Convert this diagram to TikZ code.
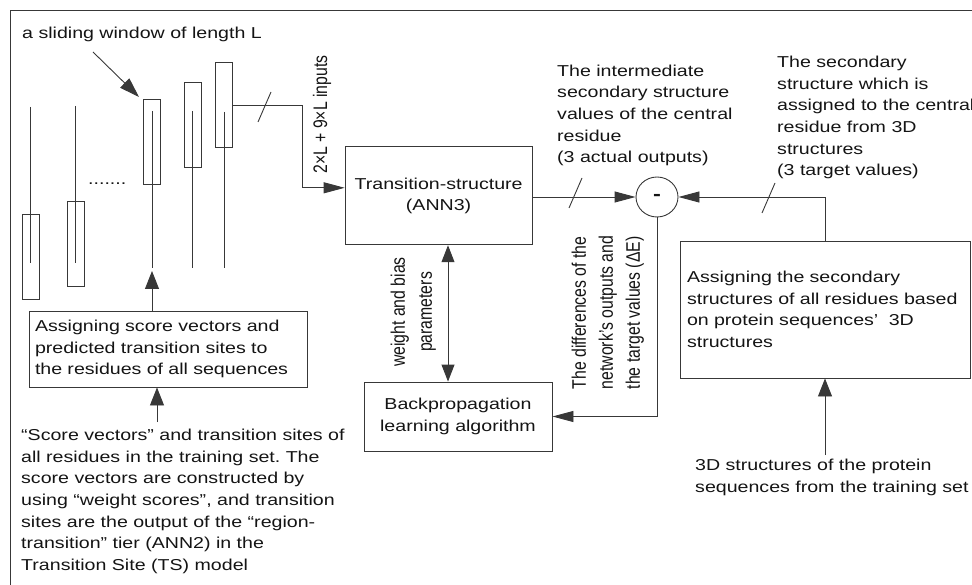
\documentclass[tikz,border=0pt]{standalone}
\usepackage{fontspec}
\usepackage{graphicx}
\setmainfont{Liberation Sans}[FakeStretch=1.24]
\newfontfamily\uprightsans{Liberation Sans}
\usetikzlibrary{arrows.meta,shapes.geometric}
\frenchspacing

\definecolor{ink}{HTML}{141414}
\definecolor{wirecol}{HTML}{383838}

% vertical (rotated) label: widened across the line direction like the body text
\newcommand\vlab[2]{\scalebox{1}[1.24]{\uprightsans\fontsize{15.8}{21.7}\selectfont\begin{tabular}{@{}#1@{}}#2\end{tabular}}}

\begin{document}
\begin{tikzpicture}[x=1pt,y=-1pt,
  every node/.style={inner sep=0pt, text=ink, font=\fontsize{15.8}{21.7}\selectfont},
  wire/.style={draw=wirecol, line width=0.9pt},
  box/.style={draw=wirecol, line width=0.9pt, rectangle},
  win/.style={draw=wirecol, line width=0.9pt, rectangle, minimum width=17pt, minimum height=85pt},
  hto/.style={-{Triangle[length=21pt,width=11pt]}},
  vto/.style={-{Triangle[length=18pt,width=14pt]}},
  slash/.style={wire}
]
\useasboundingbox (0,0) rectangle (972,585);

% outer frame
\draw[wire] (10,585) -- (10,10) -- (972,10);

% residue columns and the sliding windows on them
\node[win] (w1) at (30.5,256.5) {};
\node[win] (w2) at (75.5,243.5) {};
\node[win] (w3) at (152,141.5) {};
\node[win] (w4) at (192.5,124.5) {};
\node[win] (w5) at (224,105) {};
\draw[wire] (30.5,107) -- (30.5,263);
\draw[wire] (75.5,106) -- (75.5,263);
\draw[wire] (152,111) -- (152,268);
\draw[wire] (192.5,111) -- (192.5,268);
\draw[wire] (224,112) -- (224,268);
\node[anchor=base west] (dots) at (88,185) {.......};

% sliding window label
\node[anchor=base west] (swlab) at (22,39) {a sliding window of length L};
\coordinate (swtail) at (93,52);
\coordinate (swtip) at (139,97);
\draw[wire,-{Triangle[length=20pt,width=13pt]}] (swtail) -- (swtip);

% main blocks
\node[box, minimum width=187pt, minimum height=98pt, align=center] (ann3) at (438.6,195.8)
  {Transition-structure\\(ANN3)};
\node[ellipse, draw=wirecol, line width=0.9pt, minimum width=42pt, minimum height=40pt,
  font=\fontsize{19}{21}\selectfont\bfseries] (diff) at (657,197) {-};
\node[box, minimum width=188pt, minimum height=69pt, align=center] (bp) at (458,416.5)
  {Backpropagation\\learning algorithm};
\node[box, text width=276pt, inner xsep=7pt, minimum height=137pt, align=left] (rbox) at (825,309.5)
  {Assigning the secondary\\structures of all residues based\\on protein sequences’\ \ 3D\\structures};
\node[box, text width=266pt, inner xsep=6pt, minimum height=76pt, align=left] (lbox) at (168,349)
  {Assigning score vectors and\\predicted transition sites to\\the residues of all sequences};

% free text
\node[anchor=west, align=left] (outlab) at (557,115.5)
  {The intermediate\\secondary structure\\values of the central\\residue\\(3 actual outputs)};
\node[anchor=west, align=left] (tgtlab) at (777,117.5)
  {The secondary\\structure which is\\assigned to the central\\residue from 3D\\structures\\(3 target values)};
\node[anchor=west, align=left] (srcRlab) at (695,477.5)
  {3D structures of the protein\\sequences from the training set};
\node[anchor=west, align=left] (srcLlab) at (21,501.5)
  {“Score vectors” and transition sites of\\all residues in the training set. The\\score vectors are constructed by\\using “weight scores”, and transition\\sites are the output of the “region-\\transition” tier (ANN2) in the\\Transition Site (TS) model};

% rotated labels
\node[rotate=90] (inlab) at (321.7,114.5) {\vlab{c}{2×L + 9×L inputs}};
\node[rotate=90] (wblab) at (413,312) {\vlab{c}{weight and bias\\parameters}};
\node[rotate=90] (delab) at (607.5,312.5) {\vlab{l}{The differences of the\\network’s outputs and\\the target values (ΔE)}};

% connectors
\coordinate (bend) at (302,105);
\draw[wire,hto] (w5.east) -- (bend) |- ([yshift=8pt]ann3.west);
\coordinate (s1) at (264.5,107);
\draw[slash] (s1) ++(-6.5,15) -- ++(13,-30);

\draw[wire,hto] (ann3.east |- diff) -- (diff.west);
\coordinate (s2) at (575.5,193);
\draw[slash] (s2) ++(-6.5,15) -- ++(13,-30);

\draw[wire,hto] (rbox.north) |- (diff.east);
\coordinate (s3) at (768.5,198);
\draw[slash] (s3) ++(-6.5,15) -- ++(13,-30);

\draw[wire,hto] (diff.south) |- (bp.east);

\coordinate (dbl) at (448,0);
\draw[wire,{Triangle[length=17pt,width=13pt]}-{Triangle[length=17pt,width=13pt]}]
  (ann3.south -| dbl) -- (bp.north -| dbl);

\coordinate (winbase) at (152,271);
\draw[wire,vto] (lbox.north -| winbase) -- (winbase);
\coordinate (srcL) at (157,422);
\draw[wire,vto] (srcL) -- (srcL |- lbox.south);
\coordinate (srcR) at (825,455);
\draw[wire,vto] (srcR) -- (rbox.south);
\end{tikzpicture}
\end{document}
